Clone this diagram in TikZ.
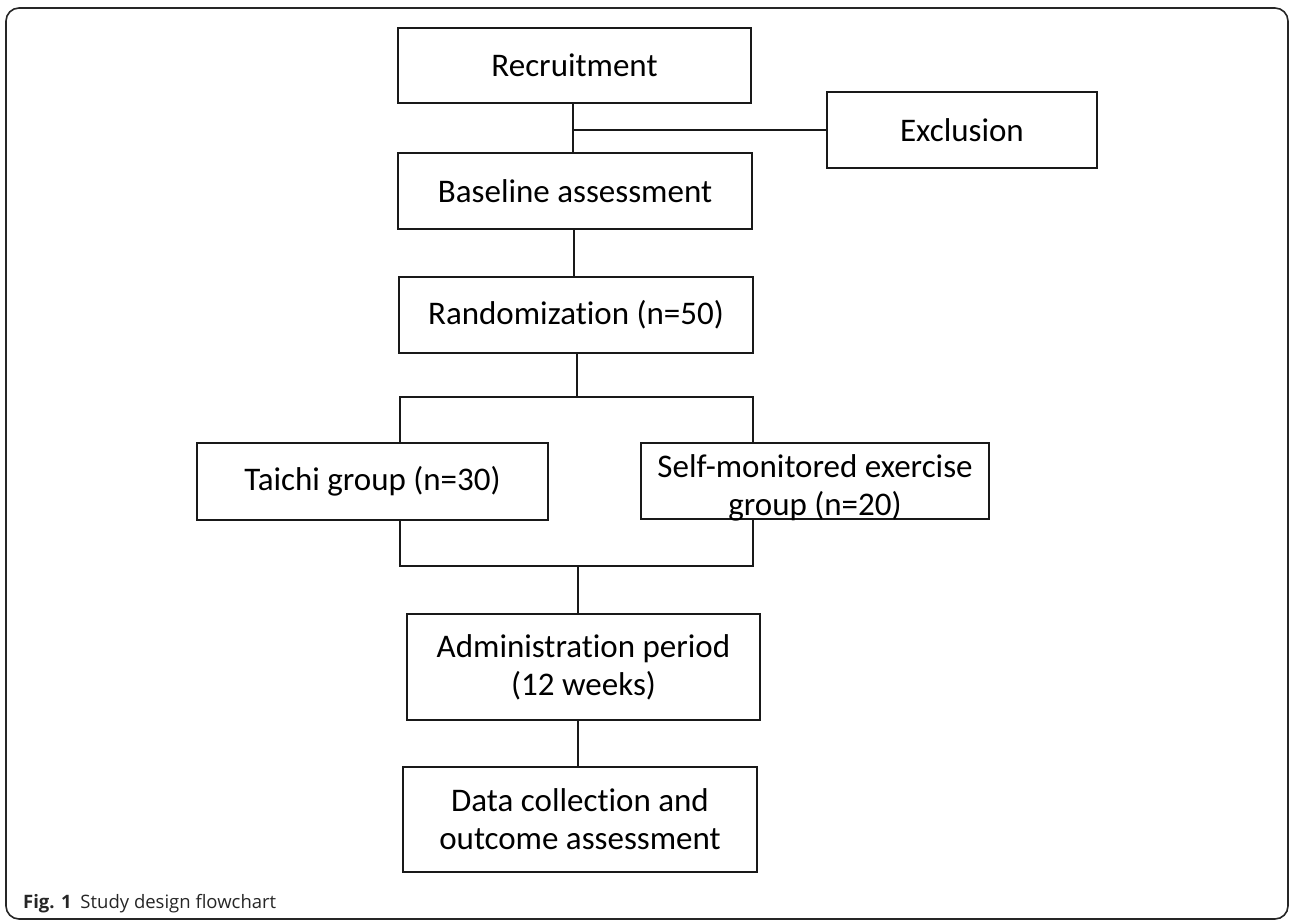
\documentclass[tikz,border=0pt]{standalone}
\usepackage{fontspec}
\setmainfont{Carlito}[Ligatures=NoCommon]
\newfontfamily\capfont{Open Sans}
\begin{document}
\begin{tikzpicture}[x=1pt,y=-1pt,
  every node/.style={font=\fontsize{33}{38}\selectfont, text=black},
  flowbox/.style={draw=black!90, line width=2.7pt, inner sep=0pt, align=center},
  link/.style={draw=black!90, line width=2.4pt},
  frame/.style={draw=black!85, line width=1.6pt, rounded corners=13pt}]
\useasboundingbox (0,0) rectangle (1290,921);
\draw[frame] (6,8) rectangle (1288,919);

\node[flowbox, minimum width=353pt, minimum height=75pt] (rec) at (574.5,65.5) {Recruitment};
\node[flowbox, minimum width=270pt, minimum height=76pt] (excl) at (962,130) {Exclusion};
\node[flowbox, minimum width=354pt, minimum height=76pt] (base) at (575,191) {Baseline assessment};
\node[flowbox, minimum width=354pt, minimum height=76pt] (rand) at (576,315) {Randomization (n=50)};
\node[flowbox, minimum width=351pt, minimum height=77pt] (taichi) at (372.5,481.5) {Taichi group (n=30)};
\node[flowbox, minimum width=348pt, minimum height=76pt] (self) at (815,481) {};
\node[align=center, inner sep=0pt] (selftxt) at (815,488) {Self-monitored exercise\\group (n=20)};
\node[flowbox, minimum width=353pt, minimum height=106pt] (admin) at (583.5,667) {Administration period\\(12 weeks)};
\node[flowbox, minimum width=354pt, minimum height=105pt] (data) at (580,819.5) {Data collection and\\outcome assessment};

% recruitment -> baseline with exclusion branch
\coordinate (r1) at (573,103);
\coordinate (r2) at (573,153);
\coordinate (rj) at (573,130);
\draw[link] (r1) -- (r2);
\draw[link] (rj) -- (excl.west);
% baseline -> randomization
\coordinate (b1) at (574,229);
\coordinate (b2) at (574,277);
\draw[link] (b1) -- (b2);
% randomization split
\coordinate (s0) at (577,353);
\coordinate (s1) at (577,397);
\coordinate (sl) at (400,397);
\coordinate (sr) at (753,397);
\draw[link] (s0) -- (s1);
\draw[link] (sl |- taichi.north) -- (sl) -- (sr) -- (sr |- self.north);
% merge
\coordinate (ml) at (400,566);
\coordinate (mr) at (753,566);
\coordinate (mc) at (578,566);
\draw[link] (ml |- taichi.south) -- (ml) -- (mr) -- (mr |- self.south);
\draw[link] (mc) -- (mc |- admin.north);
\draw[link] (mc |- admin.south) -- (mc |- data.north);

\node[anchor=base west, inner sep=0pt, font=\capfont\fontsize{18.5}{22}\selectfont, text=black!85] (cap) at (23,908) {\textbf{Fig. 1}\hspace{4pt} Study design flowchart};
\end{tikzpicture}
\end{document}
